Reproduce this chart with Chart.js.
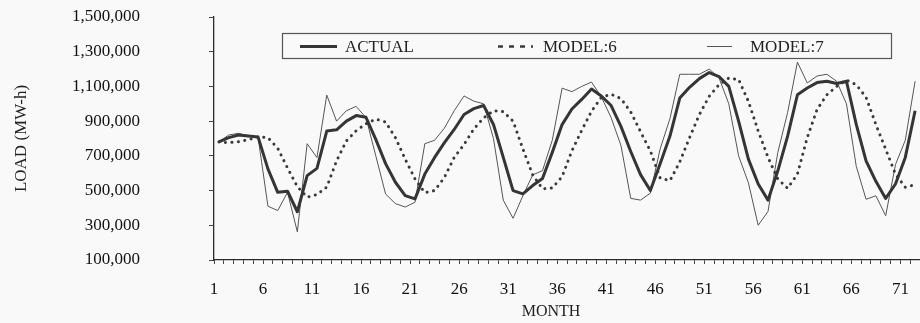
<!DOCTYPE html>
<html><head><meta charset="utf-8">
<script src="https://cdn.jsdelivr.net/npm/chart.js@4.4.1/dist/chart.umd.min.js"></script>
<style>
html,body{margin:0;padding:0;background:#f9f9f9;}
#wrap{width:920px;height:323px;position:relative;overflow:hidden;}
canvas{display:block;}
</style>
</head><body>
<div id="wrap"><canvas id="c" width="920" height="323"></canvas></div>
<script>
// ---- data ----
const months = [1,2,3,4,5,6,7,8,9,10,11,12,13,14,15,16,17,18,19,20,21,22,23,24,25,26,27,28,29,30,31,32,33,34,35,36,
  37,38,39,40,41,42,43,44,45,46,47,48,49,50,51,52,53,54,55,56,57,58,59,60,61,62,63,64,65,66,67,68,69,70,71,72];
const actual = [780000,805000,820000,815000,808000,625000,490000,496000,378000,586000,628000,843000,850000,900000,932000,922000,795000,655000,
  548000,471000,452000,595000,691000,776000,852000,938000,972000,990000,881000,691000,500000,481000,529000,570000,720000,880000,
  970000,1025000,1085000,1045000,990000,870000,725000,592000,500000,654000,814000,1033000,1095000,1145000,1180000,1157000,1100000,900000,
  681000,538000,445000,614000,814000,1052000,1091000,1122000,1130000,1117000,1130000,881000,671000,553000,455000,538000,691000,960000];
const model6 = [780000,776000,782000,793000,809000,805000,744000,630000,523000,462000,477000,520000,671000,786000,845000,885000,912000,895000,
  805000,681000,567000,488000,500000,576000,691000,765000,855000,919000,960000,955000,900000,740000,590000,510000,515000,580000,
  729000,847000,957000,1037000,1055000,1030000,953000,839000,729000,572000,557000,665000,805000,938000,1043000,1110000,1148000,1140000,
  1014000,843000,691000,567000,513000,595000,805000,967000,1052000,1100000,1136000,1110000,1037000,881000,738000,595000,519000,534000];
const model7 = [780000,820000,830000,815000,805000,410000,385000,490000,262000,770000,690000,1050000,900000,960000,985000,920000,700000,480000,
  425000,405000,433000,770000,790000,860000,960000,1045000,1015000,1000000,800000,445000,340000,470000,590000,615000,790000,1090000,
  1070000,1100000,1125000,1040000,920000,760000,455000,445000,485000,740000,915000,1170000,1170000,1170000,1200000,1150000,1000000,700000,
  545000,300000,380000,720000,950000,1240000,1120000,1160000,1170000,1130000,1000000,640000,450000,470000,355000,650000,790000,1130000];
const xTickLabels = ['1','6','11','16','21','26','31','36','41','46','51','56','61','66','71'];
const yTickValues = [100000,300000,500000,700000,900000,1100000,1300000,1500000];
const seriesNames = ['ACTUAL','MODEL:6','MODEL:7'];
const xTitle = 'MONTH';
const yTitle = 'LOAD (MW-h)';

// ---- chart ----
const SERIF = "'Liberation Serif','DejaVu Serif',serif";
const toXY = arr => months.map((m, i) => ({x: m, y: arr[i]}));

const legendBox = {
  id: 'legendBox',
  afterDraw(chart) {
    const ctx = chart.ctx;
    ctx.save();
    ctx.strokeStyle = '#555';
    ctx.lineWidth = 1.2;
    ctx.strokeRect(282.5, 33.5, 609, 25);
    const items = [
      {x1: 300, x2: 337, tx: 345, dash: [], w: 3},
      {x1: 498, x2: 533, tx: 543, dash: [5, 6], w: 2.5},
      {x1: 707, x2: 732, tx: 750, dash: [], w: 1}
    ];
    const yy = 46.5;
    chart.data.datasets.forEach((ds, i) => {
      const it = items[i];
      ctx.beginPath();
      ctx.setLineDash(it.dash);
      ctx.lineCap = 'butt';
      ctx.strokeStyle = ds.borderColor;
      ctx.lineWidth = it.w;
      ctx.moveTo(it.x1, yy);
      ctx.lineTo(it.x2, yy);
      ctx.stroke();
      ctx.setLineDash([]);
      ctx.fillStyle = '#222';
      ctx.font = '17px ' + SERIF;
      ctx.textBaseline = 'middle';
      ctx.textAlign = 'left';
      ctx.fillText(ds.label, it.tx, yy + 1);
    });
    // x axis title
    ctx.font = '16px ' + SERIF;
    ctx.textAlign = 'center';
    ctx.textBaseline = 'middle';
    ctx.fillStyle = '#222';
    ctx.fillText(xTitle, 551, 312);
    ctx.restore();
  }
};

new Chart(document.getElementById('c'), {
  type: 'line',
  data: {
    datasets: [
      {label: seriesNames[0], data: toXY(actual), borderColor: '#353535', borderWidth: 3, pointRadius: 0, tension: 0, borderJoinStyle: 'round'},
      {label: seriesNames[1], data: toXY(model6), borderColor: '#3a3a3a', borderWidth: 3, borderDash: [0.1, 6.4], borderCapStyle: 'round', pointRadius: 0, tension: 0},
      {label: seriesNames[2], data: toXY(model7), borderColor: '#555555', borderWidth: 1, pointRadius: 0, tension: 0}
    ]
  },
  options: {
    responsive: false,
    animation: false,
    layout: {padding: {left: 5, right: 0, top: 17, bottom: 0}},
    plugins: {legend: {display: false}, tooltip: {enabled: false}},
    scales: {
      x: {
        type: 'linear',
        min: 0.5,
        max: 72.5,
        afterBuildTicks: s => { s.ticks = months.map(m => ({value: m - 0.5})).concat([{value: 72.5}]); },
        afterFit: s => { s.height = 63; s.paddingLeft = 0; s.paddingRight = 0; },
        ticks: {
          autoSkip: false, maxRotation: 0, padding: 15, color: '#111',
          font: {family: SERIF, size: 17},
          callback: v => { const k = (v - 0.5) / 5; return (Number.isInteger(k) && k < xTickLabels.length) ? xTickLabels[k] : ''; }
        },
        grid: {drawOnChartArea: false, drawTicks: true, tickLength: 4, color: '#444', lineWidth: 1},
        border: {display: true, color: '#2a2a2a', width: 1.3}
      },
      y: {
        min: 100000,
        max: 1500000,
        afterBuildTicks: s => { s.ticks = yTickValues.map(v => ({value: v})); },
        afterFit: s => { s.width = 209; s.paddingTop = 8; s.paddingBottom = 8; },
        ticks: {
          padding: 69, color: '#111',
          font: {family: SERIF, size: 17},
          callback: v => Number(v).toLocaleString('en-US')
        },
        grid: {drawOnChartArea: false, drawTicks: true, tickLength: 5, color: '#444', lineWidth: 1},
        border: {display: true, color: '#2a2a2a', width: 1.3},
        title: {display: true, text: yTitle, color: '#222', font: {family: SERIF, size: 17}, padding: {top: 6, bottom: 0}}
      }
    }
  },
  plugins: [legendBox]
});
</script>
</body></html>
